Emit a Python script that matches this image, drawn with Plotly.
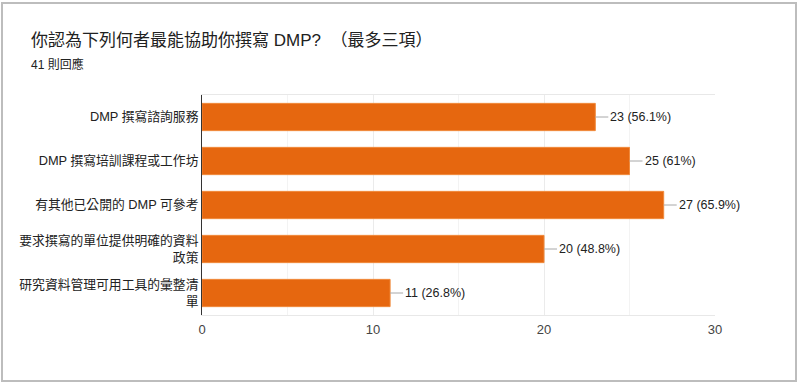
import plotly.graph_objects as go

categories = [
    "DMP 撰寫諮詢服務",
    "DMP 撰寫培訓課程或工作坊",
    "有其他已公開的 DMP 可參考",
    "要求撰寫的單位提供明確的資料<br>政策",
    "研究資料管理可用工具的彙整清<br>單",
]
counts = [23, 25, 27, 20, 11]
percents = ["56.1%", "61%", "65.9%", "48.8%", "26.8%"]
x_ticks = [0, 10, 20, 30]

title_text = "你認為下列何者最能協助你撰寫 DMP?  （最多三項）"
subtitle_text = "41 則回應"

FONT = "Arial, 'Liberation Sans', 'Noto Sans CJK TC', sans-serif"
BAR = "#e6670f"

L, R, T, B = 202, 85, 95, 72
W, H = 800, 387
pw, ph = W - L - R, H - T - B


def px_x(x):
    return (x - L) / pw


def px_y(y):
    return (H - B - y) / ph


fig = go.Figure()
fig.add_trace(go.Bar(
    y=categories, x=counts, orientation="h",
    marker=dict(color=BAR, line=dict(color="#f08a3c", width=1)),
    hoverinfo="skip",
))

for c, v, p in zip(categories, counts, percents):
    fig.add_annotation(
        x=v, y=c, xref="x", yref="y",
        text=f"{v} ({p})",
        showarrow=True, arrowhead=0, arrowwidth=1, arrowcolor="#a8a8a8",
        ax=13, ay=0, xanchor="left", standoff=0, startstandoff=0,
        font=dict(family=FONT, size=12.5, color="#222222"),
    )

fig.add_annotation(
    x=px_x(29), y=px_y(40), xref="paper", yref="paper",
    text=title_text, showarrow=False, xanchor="left", yanchor="middle",
    font=dict(family=FONT, size=17, color="#212121"),
)
fig.add_annotation(
    x=px_x(29), y=px_y(64), xref="paper", yref="paper",
    text=subtitle_text, showarrow=False, xanchor="left", yanchor="middle",
    font=dict(family=FONT, size=12, color="#212121"),
)

fig.add_shape(
    type="rect", xref="paper", yref="paper",
    x0=px_x(2), x1=px_x(796), y0=px_y(381), y1=px_y(3),
    line=dict(color="#bdbdbd", width=2), fillcolor="rgba(0,0,0,0)", layer="below",
)

fig.update_layout(
    width=W, height=H,
    margin=dict(l=L, r=R, t=T, b=B, pad=0),
    paper_bgcolor="white", plot_bgcolor="white",
    showlegend=False, bargap=0.38,
    font=dict(family=FONT, size=13, color="#222222"),
    xaxis=dict(
        range=[0, 30], tickvals=x_ticks, ticktext=[str(t) for t in x_ticks],
        showgrid=True, gridcolor="#ebebeb", gridwidth=1,
        minor=dict(dtick=5, showgrid=True, gridcolor="#f3f3f3", gridwidth=1, tick0=0),
        zeroline=False, showline=True, mirror=True, linecolor="#e8e8e8", linewidth=1,
        ticks="", ticklabelstandoff=2,
        tickfont=dict(family=FONT, size=13, color="#444444"),
        fixedrange=True,
    ),
    yaxis=dict(
        autorange="reversed", showgrid=False, zeroline=False,
        showline=True, linecolor="#333333", linewidth=1, mirror=False,
        ticks="", ticklabelstandoff=0,
        tickfont=dict(family=FONT, size=12.8, color="#222222"),
        fixedrange=True,
    ),
)

fig.write_html(
    "out.html",
    config={"displayModeBar": False, "staticPlot": True},
    post_script="document.body.style.margin='0';document.body.style.overflow='hidden';",
)
